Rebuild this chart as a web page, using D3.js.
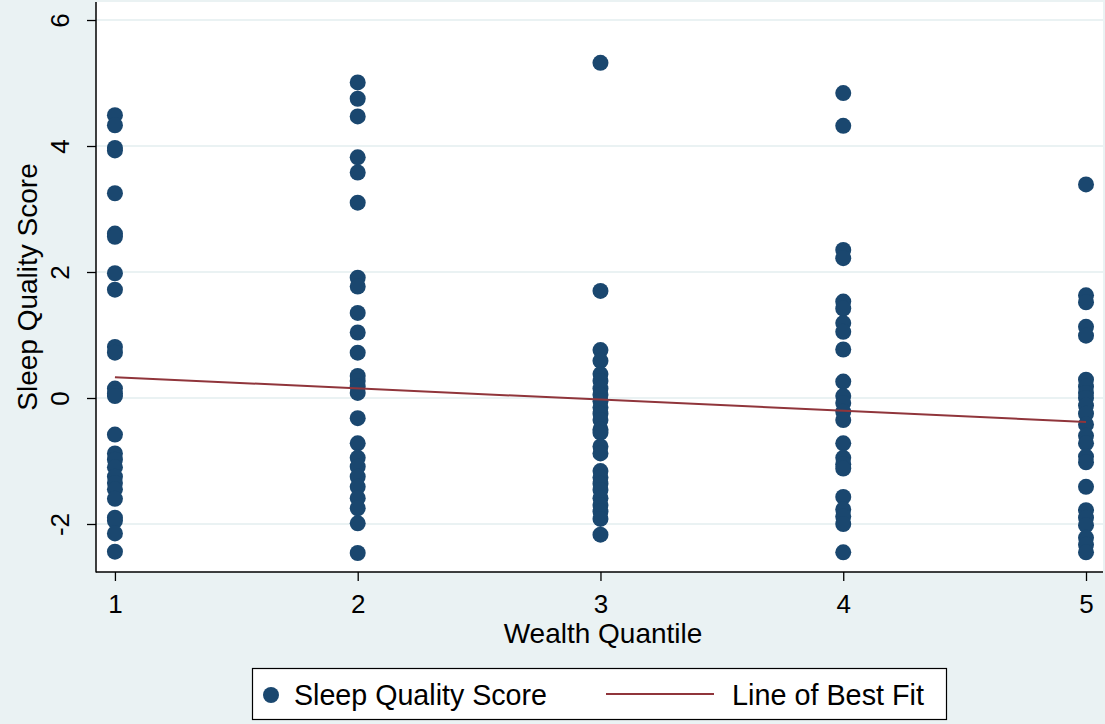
<!DOCTYPE html>
<html>
<head>
<meta charset="utf-8">
<script src="https://cdn.jsdelivr.net/npm/d3@7"></script>
<style>
  html, body { margin: 0; padding: 0; background: #eaf2f3; }
  svg { display: block; }
  text { font-family: "Liberation Sans", Arial, Helvetica, sans-serif; fill: #000; }
</style>
</head>
<body>
<svg id="chart" width="1105" height="724"></svg>
<script>
// ---- Data ----
const quantiles = [1, 2, 3, 4, 5];
const wealth1 = [4.49, 4.33, 3.97, 3.93, 3.25, 2.61, 2.56, 1.98, 1.72, 0.81, 0.72, 0.15, 0.07, 0.03, -0.58, -0.88, -0.98, -1.10, -1.25, -1.35, -1.45, -1.60, -1.90, -1.95, -2.15, -2.44];
const wealth2 = [5.01, 4.75, 4.47, 3.82, 3.58, 3.10, 1.91, 1.77, 1.35, 1.04, 0.72, 0.35, 0.27, 0.18, 0.08, -0.32, -0.72, -0.95, -1.09, -1.25, -1.41, -1.59, -1.75, -1.99, -2.46];
const wealth3 = [5.32, 1.70, 0.76, 0.59, 0.38, 0.27, 0.15, 0.05, -0.05, -0.15, -0.25, -0.35, -0.50, -0.55, -0.77, -0.88, -1.16, -1.26, -1.36, -1.46, -1.59, -1.70, -1.80, -1.92, -2.17];
const wealth4 = [4.84, 4.32, 2.35, 2.22, 1.53, 1.42, 1.19, 1.05, 0.77, 0.26, 0.03, -0.08, -0.22, -0.35, -0.72, -0.95, -1.05, -1.12, -1.57, -1.77, -1.88, -2.00, -2.45];
const wealth5 = [3.39, 1.63, 1.52, 1.13, 0.99, 0.29, 0.18, 0.08, 0.00, -0.12, -0.25, -0.42, -0.60, -0.72, -0.93, -1.02, -1.41, -1.78, -1.90, -2.02, -2.22, -2.33, -2.45];
const fitX = [1, 5];
const fitY = [0.33, -0.38];
const yTicks = [-2, 0, 2, 4, 6];
const xTicks = [1, 2, 3, 4, 5];
const seriesLabel = "Sleep Quality Score";
const fitLabel = "Line of Best Fit";
const xTitle = "Wealth Quantile";
const yTitle = "Sleep Quality Score";

const columns = [wealth1, wealth2, wealth3, wealth4, wealth5];
const points = [];
columns.forEach((vals, i) => vals.forEach(v => points.push({ x: quantiles[i], y: v })));
const fitLine = fitX.map((x, i) => ({ x: x, y: fitY[i] }));

// ---- Layout ----
const svg = d3.select("#chart");
const plot = { left: 96, right: 1103, top: 2, bottom: 572 };
const navy = "#1a476f", maroon = "#90353b", bg = "#eaf2f3";

const x = d3.scaleLinear().domain([0.922, 5.07]).range([plot.left, plot.right]);
const y = d3.scaleLinear().domain([-2.762, 6.286]).range([plot.bottom, plot.top]);

svg.append("rect").attr("width", 1105).attr("height", 724).attr("fill", bg);
svg.append("rect")
  .attr("x", plot.left).attr("y", plot.top)
  .attr("width", plot.right - plot.left).attr("height", plot.bottom - plot.top)
  .attr("fill", "#ffffff");

// gridlines
svg.append("g").selectAll("line").data(yTicks).join("line")
  .attr("x1", plot.left).attr("x2", plot.right)
  .attr("y1", d => y(d)).attr("y2", d => y(d))
  .attr("stroke", bg).attr("stroke-width", 2);

// points
svg.append("g").selectAll("circle").data(points).join("circle")
  .attr("cx", d => x(d.x)).attr("cy", d => y(d.y)).attr("r", 8)
  .attr("fill", navy);

// fit line
svg.append("path").datum(fitLine)
  .attr("d", d3.line().x(d => x(d.x)).y(d => y(d.y)))
  .attr("fill", "none").attr("stroke", maroon).attr("stroke-width", 2);

// axes
const fmt = d => String(d);
const yAxis = svg.append("g").attr("transform", `translate(${plot.left},0)`)
  .call(d3.axisLeft(y).tickValues(yTicks).tickSize(9).tickPadding(0).tickFormat(fmt));
yAxis.select(".domain").remove();
yAxis.selectAll(".tick line").attr("stroke", "#000").attr("stroke-width", 1.3);
yAxis.selectAll(".tick text").remove();
yAxis.selectAll(".tick").append("text")
  .attr("transform", "translate(-27,0) rotate(-90)")
  .attr("text-anchor", "middle")
  .style("font-size", "26px")
  .text(fmt);

const xAxis = svg.append("g").attr("transform", `translate(0,${plot.bottom})`)
  .call(d3.axisBottom(x).tickValues(xTicks).tickSize(9).tickFormat(fmt));
xAxis.select(".domain").remove();
xAxis.selectAll(".tick line").attr("stroke", "#000").attr("stroke-width", 1.3);
xAxis.selectAll(".tick text").attr("y", 41).attr("dy", 0)
  .style("font-size", "26px").attr("fill", "#000")
  .style("font-family", '"Liberation Sans", Arial, sans-serif');

svg.append("line").attr("x1", plot.left).attr("x2", plot.left)
  .attr("y1", plot.top).attr("y2", plot.bottom + 0.5).attr("stroke", "#000").attr("stroke-width", 1.5);
svg.append("line").attr("x1", plot.left).attr("x2", plot.right)
  .attr("y1", plot.bottom).attr("y2", plot.bottom).attr("stroke", "#000").attr("stroke-width", 1.5);

// axis titles
svg.append("text").attr("x", 603).attr("y", 643)
  .attr("text-anchor", "middle").style("font-size", "28px").text(xTitle);
svg.append("text")
  .attr("transform", `translate(37,${(plot.top + plot.bottom) / 2}) rotate(-90)`)
  .attr("text-anchor", "middle").style("font-size", "28px").text(yTitle);

// legend
const lg = svg.append("g");
lg.append("rect").attr("x", 252.5).attr("y", 668.5).attr("width", 694).attr("height", 51)
  .attr("fill", "#fff").attr("stroke", "#000").attr("stroke-width", 1.2);
lg.append("circle").attr("cx", 271).attr("cy", 695).attr("r", 8).attr("fill", navy);
lg.append("text").attr("x", 294).attr("y", 705).style("font-size", "29px")
  .attr("textLength", 253).attr("lengthAdjust", "spacingAndGlyphs").text(seriesLabel);
lg.append("line").attr("x1", 606).attr("x2", 714).attr("y1", 694).attr("y2", 694)
  .attr("stroke", maroon).attr("stroke-width", 2);
lg.append("text").attr("x", 732).attr("y", 705).style("font-size", "29px")
  .attr("textLength", 192).attr("lengthAdjust", "spacingAndGlyphs").text(fitLabel);
</script>
</body>
</html>
